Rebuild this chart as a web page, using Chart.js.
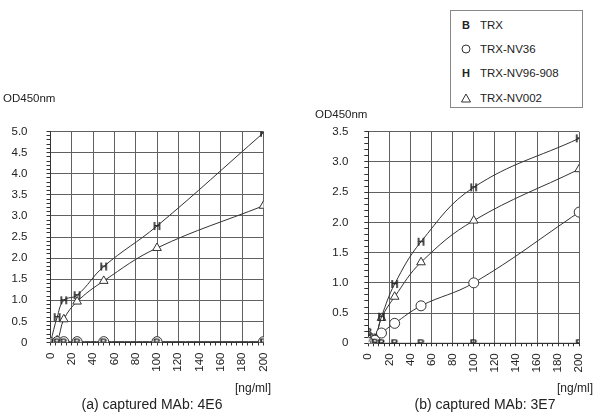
<!DOCTYPE html>
<html>
<head>
<meta charset="utf-8">
<script src="https://cdn.jsdelivr.net/npm/chart.js@4.4.1/dist/chart.umd.min.js"></script>
<style>
	body { margin: 0; background: #fff; }
	#wrap { position: relative; width: 600px; height: 420px; font-family: "Liberation Sans", Arial, sans-serif; color: #222; }
	canvas { position: absolute; top: 0; }
	#chartA { left: 0; }
	#chartB { left: 300px; }
	#legend { position: absolute; left: 450px; top: 10px; width: 131px; height: 96px; border: 1px solid #888; background: #fff; font-size: 11.5px; }
	.item { position: absolute; left: 0; height: 14px; line-height: 14px; white-space: nowrap; }
	.mark { position: absolute; left: 9px; width: 12px; text-align: center; font-weight: bold; font-size: 11px; }
	.mark svg { display: block; margin: 2px auto 0; }
	.txt { position: absolute; left: 29px; }
</style>
</head>
<body>
<div id="wrap">
	<canvas id="chartA" width="300" height="420"></canvas>
	<canvas id="chartB" width="300" height="420"></canvas>
	<div id="legend"></div>
</div>
<script>
// concentrations [ng/ml]
const conc = [0, 6.25, 12.5, 25, 50, 100, 200];
const seriesNames = ['TRX', 'TRX-NV36', 'TRX-NV96-908', 'TRX-NV002'];

// (a) captured MAb: 4E6
const trxA = [0, 0, 0, 0, 0, 0, 0];
const nv36A = [0, 0.02, 0.02, 0.02, 0.02, 0.02, 0.02];
const nv96A = [0, 0.6, 1.0, 1.12, 1.8, 2.76, 4.97];
const nv002A = [0, 0.05, 0.55, 0.97, 1.46, 2.24, 3.24];

// (b) captured MAb: 3E7
const trxB = [0.19, 0.01, 0, 0, 0, 0, 0];
const nv36B = [0.02, 0.05, 0.17, 0.33, 0.62, 1.0, 2.17];
const nv96B = [0.03, 0.1, 0.44, 0.98, 1.68, 2.58, 3.39];
const nv002B = [0.03, 0.08, 0.42, 0.77, 1.34, 2.03, 2.88];

const xTickLabels = ['0', '20', '40', '60', '80', '100', '120', '140', '160', '180', '200'];
const yTickLabelsA = ['0', '0.5', '1.0', '1.5', '2.0', '2.5', '3.0', '3.5', '4.0', '4.5', '5.0'];
const yTickLabelsB = ['0', '0.5', '1.0', '1.5', '2.0', '2.5', '3.0', '3.5'];

const FONT = '"Liberation Sans", Arial, sans-serif';
const INK = '#222';
const GRID = '#606060';

// letter markers used by the original plot ("B" and "H")
function glyph(ch) {
	const c = document.createElement('canvas');
	c.width = 11;
	c.height = 12;
	const g = c.getContext('2d');
	g.font = 'bold 11px ' + FONT;
	g.fillStyle = INK;
	g.textAlign = 'center';
	g.textBaseline = 'middle';
	g.fillText(ch, 5.5, 6.5);
	return c;
}
const styles = [glyph('B'), 'circle', glyph('H'), 'triangle'];

function series(values, i) {
	return {
		label: seriesNames[i],
		data: values.map((y, k) => ({ x: conc[k], y: y })),
		pointStyle: styles[i],
		pointRadius: 5,
		pointBorderWidth: 1,
		pointBorderColor: '#333',
		pointBackgroundColor: '#fff',
		borderColor: '#333',
		borderWidth: 1,
		tension: 0.4,
		fill: false,
	};
}

const isMultiple = (v, step) => Math.abs(v / step - Math.round(v / step)) < 1e-6;

const textPlugin = {
	id: 'texts',
	afterDraw(chart, args, opts) {
		const ctx = chart.ctx;
		ctx.save();
		ctx.fillStyle = INK;
		ctx.textBaseline = 'middle';
		opts.items.forEach((t) => {
			ctx.font = t.size + 'px ' + FONT;
			ctx.textAlign = t.align;
			ctx.fillText(t.text, t.x, t.y);
		});
		ctx.restore();
	},
};

function makeChart(id, sets, yMax, yLabels, padding, yWidth, yPad, items) {
	return new Chart(document.getElementById(id), {
		type: 'line',
		data: { datasets: sets },
		plugins: [textPlugin],
		options: {
			responsive: false,
			animation: false,
			events: [],
			layout: { padding: padding },
			plugins: {
				legend: { display: false },
				tooltip: { enabled: false },
				texts: { items: items },
			},
			scales: {
				x: {
					type: 'linear',
					min: 0,
					max: 200,
					afterFit: (s) => { s.height = 30; },
					border: { color: '#333' },
					grid: {
						color: (c) => (isMultiple(c.tick.value, 20) ? GRID : 'transparent'),
						tickColor: '#333',
						tickLength: 3,
					},
					ticks: {
						stepSize: 5,
						autoSkip: false,
						minRotation: 90,
						maxRotation: 90,
						padding: 7,
						color: INK,
						font: { family: FONT, size: 11.5 },
						callback: (v) => (isMultiple(v, 20) ? xTickLabels[Math.round(v / 20)] : ''),
					},
				},
				y: {
					min: 0,
					max: yMax,
					afterFit: (s) => { s.width = yWidth; },
					border: { color: '#333' },
					grid: {
						color: (c) => (isMultiple(c.tick.value, 0.5) ? GRID : 'transparent'),
						tickColor: '#333',
						tickLength: 4,
					},
					ticks: {
						stepSize: 0.1,
						autoSkip: false,
						padding: yPad,
						color: INK,
						font: { family: FONT, size: 11.5 },
						callback: (v) => (isMultiple(v, 0.5) ? yLabels[Math.round(v * 2)] : ''),
					},
				},
			},
		},
	});
}

makeChart(
	'chartA',
	[series(trxA, 0), series(nv36A, 1), series(nv96A, 2), series(nv002A, 3)],
	5, yTickLabelsA,
	{ left: 0, right: 36.5, top: 131.5, bottom: 47.5 },
	50.5, 19,
	[
		{ text: 'OD450nm', x: 3, y: 99, size: 11.5, align: 'left' },
		{ text: '[ng/ml]', x: 271, y: 389, size: 12, align: 'right' },
		{ text: '(a) captured MAb: 4E6', x: 152, y: 405, size: 14, align: 'center' },
	]
);

makeChart(
	'chartB',
	[series(trxB, 0), series(nv36B, 1), series(nv96B, 2), series(nv002B, 3)],
	3.5, yTickLabelsB,
	{ left: 0, right: 16.7, top: 131.7, bottom: 46.7 },
	68.3, 16,
	[
		{ text: 'OD450nm', x: 15, y: 115, size: 11.5, align: 'left' },
		{ text: '[ng/ml]', x: 293, y: 389, size: 12, align: 'right' },
		{ text: '(b) captured MAb: 3E7', x: 185, y: 405, size: 14, align: 'center' },
	]
);

// legend box
const legendMarks = [
	'B',
	'<svg width="10" height="10"><circle cx="5" cy="5" r="4" fill="#fff" stroke="#333"/></svg>',
	'H',
	'<svg width="10" height="10"><polygon points="5,1 9.5,9 0.5,9" fill="#fff" stroke="#333"/></svg>',
];
const legendTops = [7, 31, 55, 80];
document.getElementById('legend').innerHTML = seriesNames.map((name, i) =>
	'<div class="item" style="top:' + legendTops[i] + 'px"><span class="mark">' + legendMarks[i] +
	'</span><span class="txt">' + name + '</span></div>'
).join('');
</script>
</body>
</html>
